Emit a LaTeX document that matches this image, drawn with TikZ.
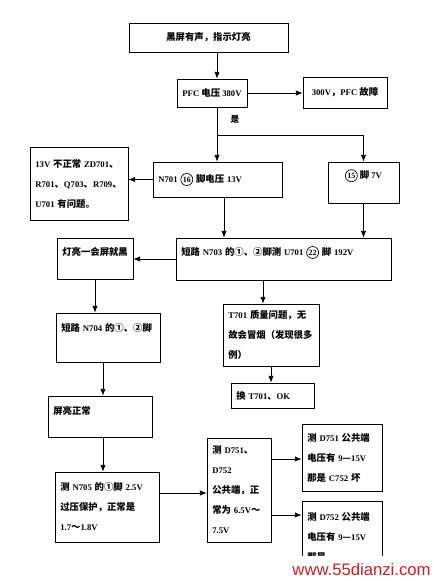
\documentclass[tikz,border=0pt]{standalone}
\usepackage{fontspec}
\setmainfont{Liberation Serif}
\newfontfamily\cjk{Noto Sans CJK SC}[Scale=1.08]
\newfontfamily\wmfont{Liberation Sans}
\usetikzlibrary{arrows.meta}
\definecolor{wmred}{RGB}{205,30,40}
\newcommand\zh[1]{{\cjk #1}}
\newcommand\cnum[1]{\tikz[baseline=(cn.base)]\node[draw, circle, line width=0.5pt, inner sep=0.4pt, minimum size=9pt, font=\fontsize{6}{6}\selectfont\bfseries] (cn) {#1};}

\begin{document}
\begin{tikzpicture}[x=0.75pt, y=-0.75pt,
    box/.style = {draw, line width=0.6pt, inner sep=2pt, font=\fontsize{6.5}{15}\selectfont\bfseries},
    lbox/.style = {box, inner xsep=4pt, align=left},
    arr/.style = {line width=0.6pt, -{Latex[length=5pt, width=4pt]}},
    ln/.style = {line width=0.6pt}]
  \fill[white] (0,0) rectangle (433,581);
  \useasboundingbox (0,0) rectangle (433,581);

  \node[box, minimum width=119.25pt, minimum height=21.75pt] (b1) at (208.5,37.5) {\zh{黑屏有声，指示灯亮}};
  \node[box, minimum width=52.5pt, minimum height=21pt] (b2) at (212,93) {PFC \zh{电压} 380V};
  \node[box, minimum width=63pt, minimum height=23.25pt] (b3) at (345,92.5) {300V\zh{，}PFC \zh{故障}};
  \node[font=\fontsize{6}{6}\selectfont\bfseries] (yes) at (235,119) {\zh{是}};
  \node[lbox, text width=88.75pt, minimum height=26.25pt] (b5) at (217.5,179.5) {N701 \cnum{16} \zh{脚电压} 13V};
  \node[box, minimum width=53.25pt, minimum height=30.75pt, text depth=13pt] (b6) at (363.5,182.5) {\cnum{15} \zh{脚} 7V};
  \node[lbox, text width=65.5pt, minimum height=54.75pt] (b7) at (79,183.5) {13V \zh{不正常} ZD701\zh{、}\\R701\zh{、}Q703\zh{、}R709\zh{、}\\U701 \zh{有问题。}};
  \node[lbox, text width=153.25pt, minimum height=31.5pt, text depth=12.5pt] (b8) at (283.5,259) {\zh{短路} N703 \zh{的①、②脚测} U701 \cnum{22} \zh{脚} 192V};
  \node[lbox, text width=49pt, minimum height=30.75pt, text depth=10pt] (b9) at (95,258.5) {\zh{灯亮一会屏就黑}};
  \node[lbox, text width=70pt, minimum height=36.75pt, text depth=15pt] (b10) at (108,337.5) {\zh{短路} N704 \zh{的①、②脚}};
  \node[lbox, text width=64pt, minimum height=46.5pt] (b11) at (271,335) {T701 \zh{质量问题，无}\\\zh{故会冒烟（发现很多}\\\zh{例）}};
  \node[lbox, text width=54.25pt, minimum height=18.75pt] (b12) at (272.5,395.5) {\zh{换} T701\zh{、}OK};
  \node[lbox, text width=70pt, minimum height=30.75pt, text depth=9pt] (b13) at (100,416.5) {\zh{屏亮正常}};
  \node[lbox, text width=70pt, minimum height=52.5pt] (b14) at (107,507) {\zh{测} N705 \zh{的①脚} 2.5V\\\zh{过压保护，正常是}\\1.7\zh{～}1.8V};
  \node[lbox, text width=40pt, minimum height=78pt] (b15) at (239,490) {\zh{测} D751\zh{、}\\D752\\\zh{公共端，正}\\\zh{常为} 6.5V\zh{～}\\7.5V};
  \node[lbox, text width=52pt, minimum height=50.25pt] (b16) at (342,457.5) {\zh{测} D751 \zh{公共端}\\\zh{电压有} 9\zh{—}15V\\\zh{那是} C752 \zh{坏}};
  \node[lbox, text width=52pt, minimum height=54pt, anchor=north] (b17) at (342,501) {\zh{测} D752 \zh{公共端}\\\zh{电压有} 9\zh{—}15V\\\zh{那是}};

  \coordinate (c1) at (217,135);
  \coordinate (c3) at (224,0);
  \coordinate (c4) at (263,0);
  \coordinate (c5) at (103,0);
  \coordinate (c6) at (0,493);
  \coordinate (c7) at (0,459);
  \coordinate (c8) at (0,515);

  \draw[arr] (b1.south -| c1) -- (b2.north -| c1);
  \draw[arr] (b2.east) -- (b3.west |- b2.east);
  \draw[ln] (b2.south -| c1) -- (c1);
  \draw[arr] (c1) -- (b5.north -| c1);
  \draw[arr] (c1) -| (b6.north);
  \draw[arr] (b5.west) -- (b5.west -| b7.east);
  \draw[arr] (b5.south -| c3) -- (b8.north -| c3);
  \draw[arr] (b6.south) -- (b8.north -| b6.south);
  \draw[arr] (b8.west) -- (b8.west -| b9.east);
  \draw[arr] (b9.south) -- (b10.north -| b9.south);
  \draw[arr] (b8.south -| c4) -- (b11.north -| c4);
  \draw[arr] (b11.south) -- (b12.north -| b11.south);
  \draw[arr] (b10.south -| c5) -- (b13.north -| c5);
  \draw[arr] (b13.south -| c5) -- (b14.north -| c5);
  \draw[arr] (b14.east |- c6) -- (b15.west |- c6);
  \draw[arr] (b15.east |- c7) -- (b16.west |- c7);
  \draw[arr] (b15.east |- c8) -- (b17.west |- c8);

  \fill[white] (290,556) rectangle (433,581);
  \node[font=\wmfont\fontsize{12.5}{14}\selectfont, text=wmred] (wm) at (361.5,570) {www.55dianzi.com};
\end{tikzpicture}
\end{document}
